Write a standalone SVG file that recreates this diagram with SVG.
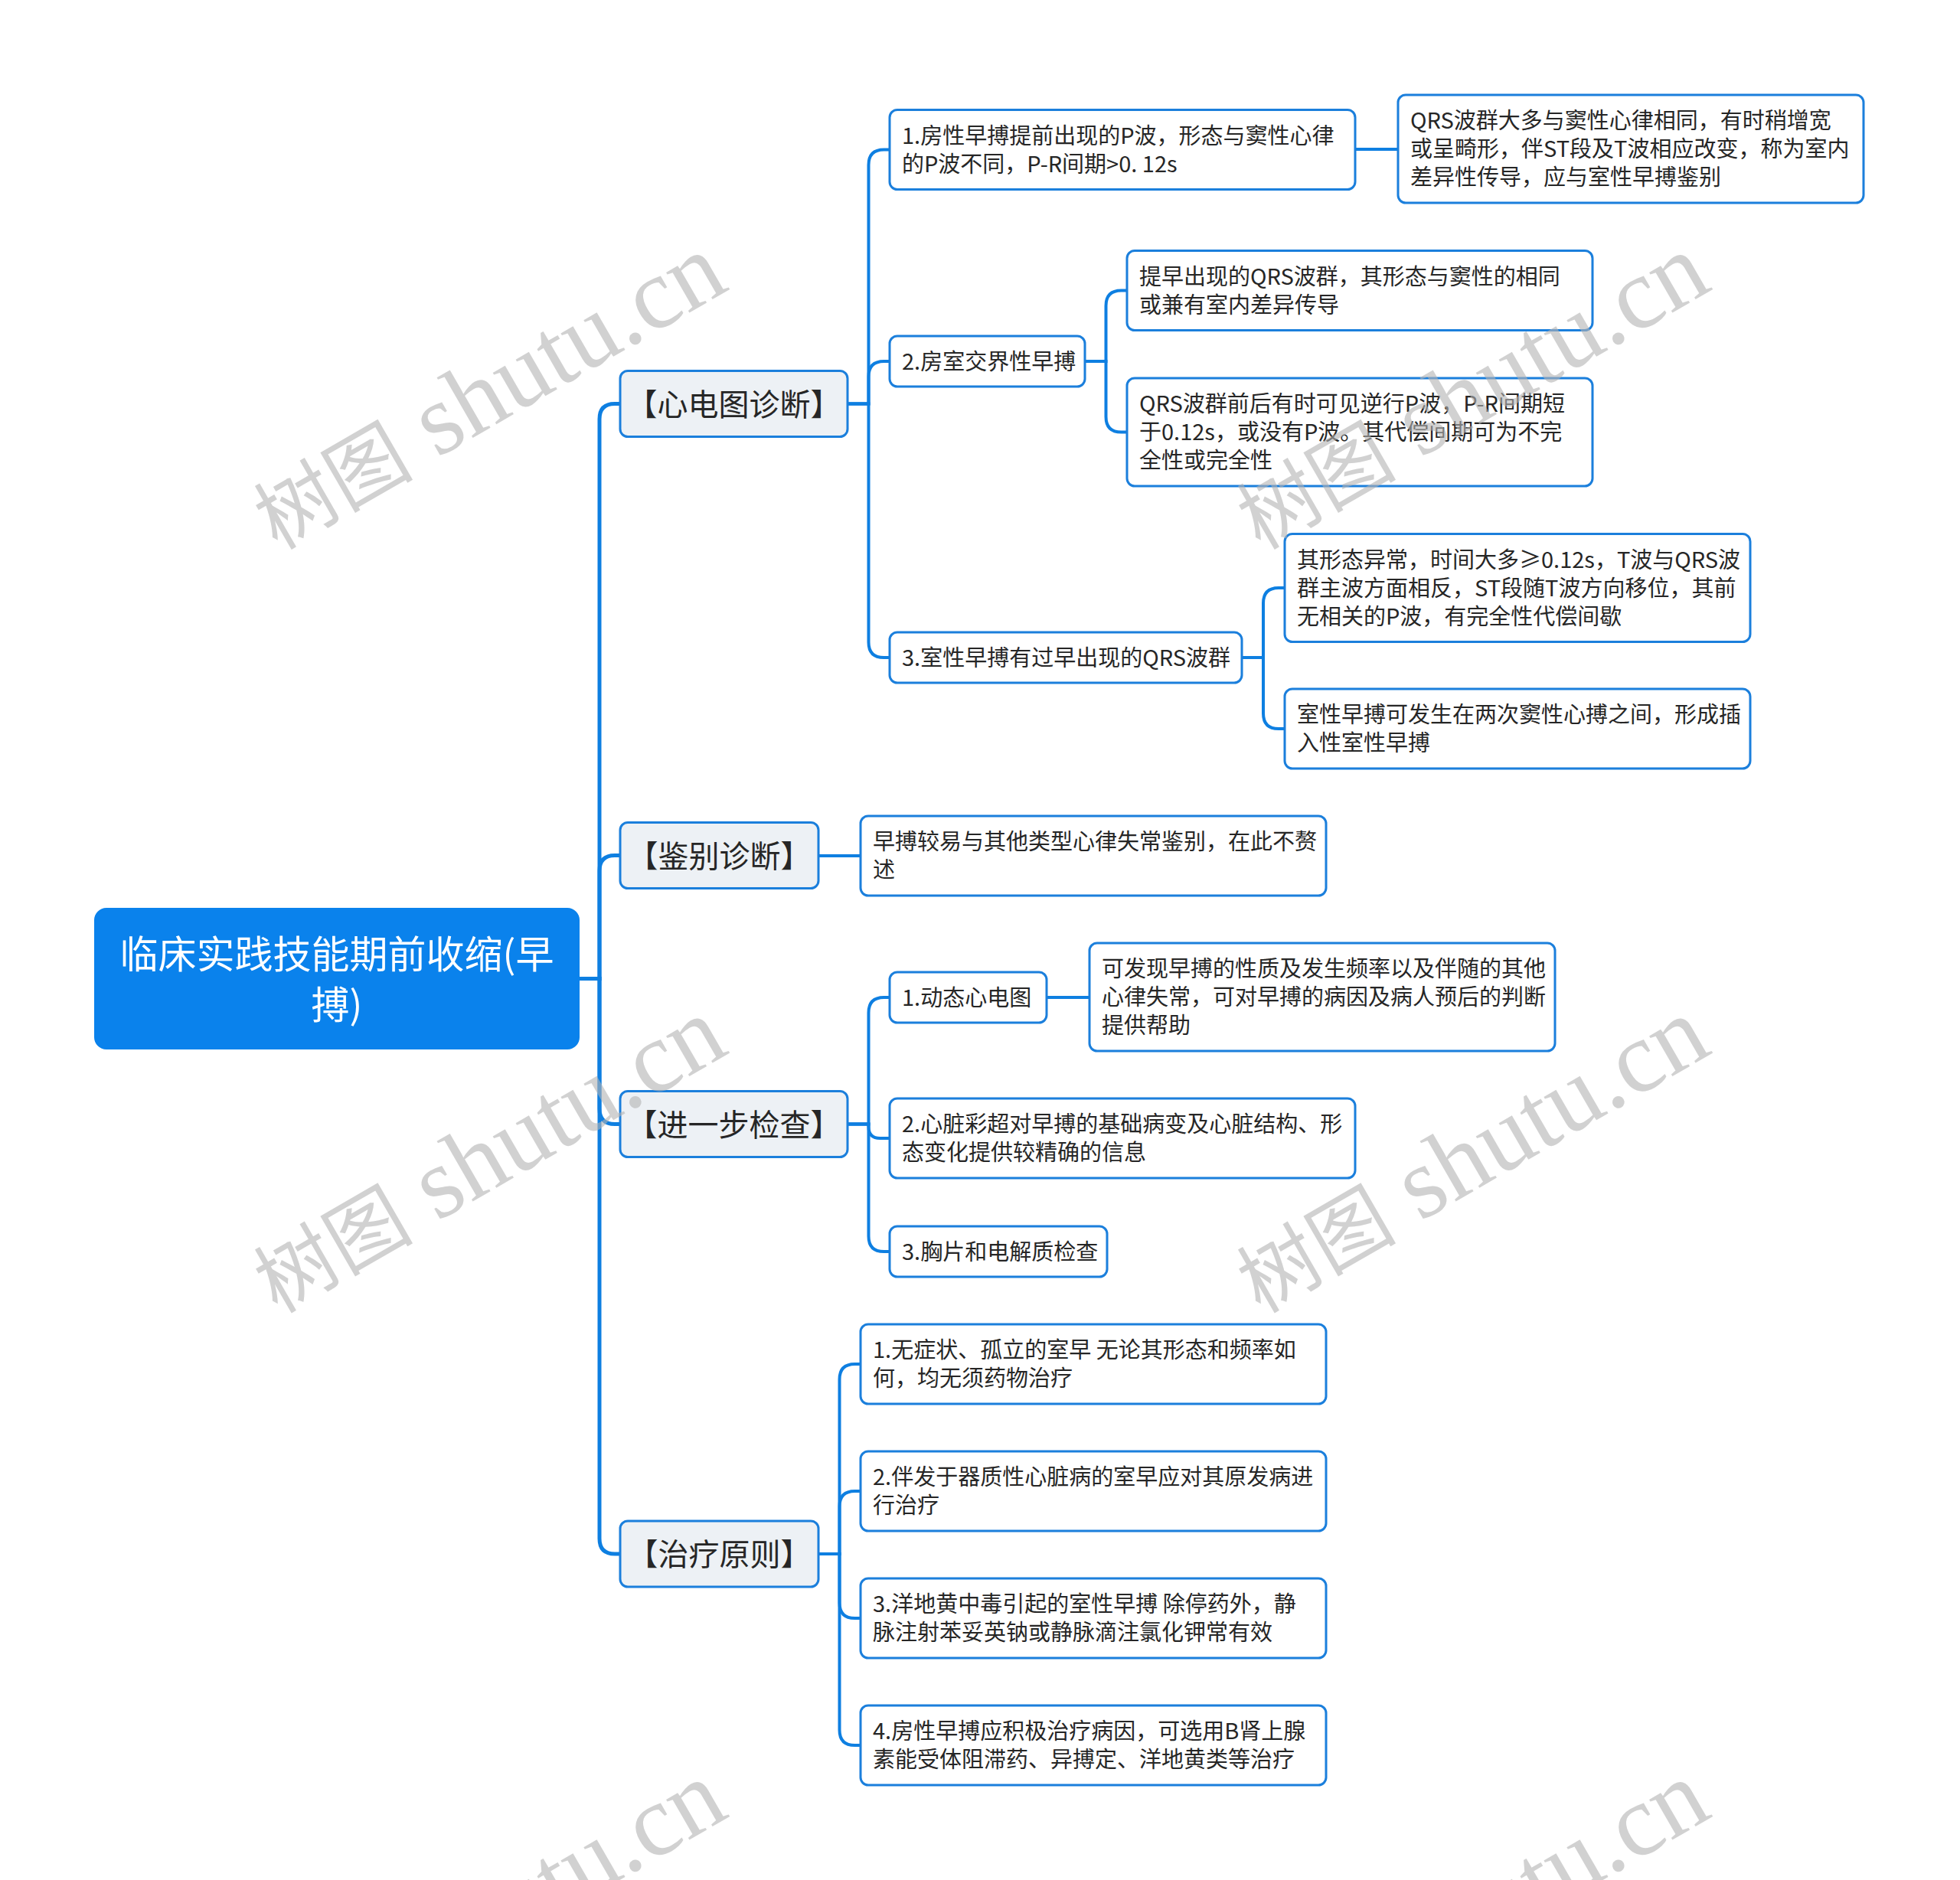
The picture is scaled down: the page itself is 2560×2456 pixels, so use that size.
<svg xmlns="http://www.w3.org/2000/svg" xmlns:xlink="http://www.w3.org/1999/xlink" width="2560" height="2456" viewBox="0 0 2560 2456">
<style>
.root{fill:#0a82ec;stroke:#0a82ec;stroke-width:2}
.l1{fill:#edf1f5;stroke:#1b7fdc;stroke-width:3}
.l2{fill:#ffffff;stroke:#1b7fdc;stroke-width:3}
.rt{font-family:"Noto Sans CJK SC","Noto Sans",sans-serif;font-size:50px;fill:#ffffff;text-anchor:middle}
.t1{font-family:"Noto Sans CJK SC","Noto Sans",sans-serif;font-size:40px;fill:#262626;text-anchor:middle}
.t2{font-family:"Noto Sans CJK SC","Noto Sans",sans-serif;font-size:29px;fill:#262626}
.c0{fill:none;stroke:#0e7fe1;stroke-width:5}
.c{fill:none;stroke:#0e7fe1;stroke-width:4}
.wm{font-family:"Liberation Serif","Noto Sans CJK SC",serif;font-size:132px;fill:#b4b4b4;opacity:0.6;text-anchor:end}
.wmc{font-size:104px}
</style>
<defs>
<text id="wm" class="wm" transform="rotate(-30)"><tspan class="wmc">树图</tspan> shutu.cn</text>
</defs>
<rect width="2560" height="2456" fill="#ffffff"/>
<g id="connectors">
<path class="c0" d="M756 1278.5 H783 V547.5 Q783 527.5 803 527.5 H810"/>
<path class="c0" d="M756 1278.5 H783 V1137.5 Q783 1117.5 803 1117.5 H810"/>
<path class="c0" d="M756 1278.5 H783 V1448.5 Q783 1468.5 803 1468.5 H810"/>
<path class="c0" d="M756 1278.5 H783 V2010 Q783 2030 803 2030 H810"/>
<path class="c" d="M1107 527.5 H1134.5 V215.5 Q1134.5 195.5 1154.5 195.5 H1162"/>
<path class="c" d="M1107 527.5 H1134.5 V492 Q1134.5 472 1154.5 472 H1162"/>
<path class="c" d="M1107 527.5 H1134.5 V839 Q1134.5 859 1154.5 859 H1162"/>
<path class="c" d="M1770 195 H1826"/>
<path class="c" d="M1417 472 H1444.5 V399.5 Q1444.5 379.5 1464.5 379.5 H1472"/>
<path class="c" d="M1417 472 H1444.5 V544.5 Q1444.5 564.5 1464.5 564.5 H1472"/>
<path class="c" d="M1622 859 H1650 V788 Q1650 768 1670 768 H1678"/>
<path class="c" d="M1622 859 H1650 V932 Q1650 952 1670 952 H1678"/>
<path class="c" d="M1069 1118 H1124"/>
<path class="c" d="M1107 1468.5 H1134.5 V1323 Q1134.5 1303 1154.5 1303 H1162"/>
<path class="c" d="M1107 1468.5 H1134.5 V1472 Q1134.5 1487 1149.5 1487 H1162"/>
<path class="c" d="M1107 1468.5 H1134.5 V1615 Q1134.5 1635 1154.5 1635 H1162"/>
<path class="c" d="M1367 1303 H1423"/>
<path class="c" d="M1069 2030 H1096.5 V1802 Q1096.5 1782 1116.5 1782 H1124"/>
<path class="c" d="M1069 2030 H1096.5 V1968 Q1096.5 1948 1116.5 1948 H1124"/>
<path class="c" d="M1069 2030 H1096.5 V2094 Q1096.5 2114 1116.5 2114 H1124"/>
<path class="c" d="M1069 2030 H1096.5 V2260 Q1096.5 2280 1116.5 2280 H1124"/>
</g>
<g id="root">
<rect class="root" x="124" y="1187" width="632" height="183" rx="15"/>
<text class="rt" x="440" y="1265">临床实践技能期前收缩(早</text>
<text class="rt" x="440" y="1331">搏)</text>
</g>
<g id="n-xdt">
<rect class="l1" x="810" y="484.5" width="297" height="86" rx="10"/>
<text class="t1" x="958.5" y="542.5">【心电图诊断】</text>
</g>
<g id="n-jbzd">
<rect class="l1" x="810" y="1074.5" width="259" height="86" rx="10"/>
<text class="t1" x="939.5" y="1132.5">【鉴别诊断】</text>
</g>
<g id="n-jybjc">
<rect class="l1" x="810" y="1425.5" width="297" height="86" rx="10"/>
<text class="t1" x="958.5" y="1483.5">【进一步检查】</text>
</g>
<g id="n-zlyz">
<rect class="l1" x="810" y="1987" width="259" height="86" rx="10"/>
<text class="t1" x="939.5" y="2045">【治疗原则】</text>
</g>
<g id="n-a1">
<rect class="l2" x="1162" y="143.5" width="608" height="104" rx="10"/>
<text class="t2" x="1178" y="188">1.房性早搏提前出现的P波，形态与窦性心律</text>
<text class="t2" x="1178" y="225">的P波不同，P-R间期&gt;0. 12s</text>
</g>
<g id="n-a1a">
<rect class="l2" x="1826" y="124" width="608" height="141" rx="10"/>
<text class="t2" x="1842" y="168">QRS波群大多与窦性心律相同，有时稍增宽</text>
<text class="t2" x="1842" y="205">或呈畸形，伴ST段及T波相应改变，称为室内</text>
<text class="t2" x="1842" y="242">差异性传导，应与室性早搏鉴别</text>
</g>
<g id="n-a2">
<rect class="l2" x="1162" y="439" width="255" height="66" rx="10"/>
<text class="t2" x="1178" y="483">2.房室交界性早搏</text>
</g>
<g id="n-a2a">
<rect class="l2" x="1472" y="327.5" width="608" height="104" rx="10"/>
<text class="t2" x="1488" y="372">提早出现的QRS波群，其形态与窦性的相同</text>
<text class="t2" x="1488" y="409">或兼有室内差异传导</text>
</g>
<g id="n-a2b">
<rect class="l2" x="1472" y="494" width="608" height="141" rx="10"/>
<text class="t2" x="1488" y="538">QRS波群前后有时可见逆行P波，P-R间期短</text>
<text class="t2" x="1488" y="575">于0.12s，或没有P波。其代偿间期可为不完</text>
<text class="t2" x="1488" y="612">全性或完全性</text>
</g>
<g id="n-a3">
<rect class="l2" x="1162" y="826" width="460" height="66" rx="10"/>
<text class="t2" x="1178" y="870">3.室性早搏有过早出现的QRS波群</text>
</g>
<g id="n-a3a">
<rect class="l2" x="1678" y="697.5" width="608" height="141" rx="10"/>
<text class="t2" x="1694" y="742">其形态异常，时间大多≥0.12s，T波与QRS波</text>
<text class="t2" x="1694" y="779">群主波方面相反，ST段随T波方向移位，其前</text>
<text class="t2" x="1694" y="816">无相关的P波，有完全性代偿间歇</text>
</g>
<g id="n-a3b">
<rect class="l2" x="1678" y="900" width="608" height="104" rx="10"/>
<text class="t2" x="1694" y="944">室性早搏可发生在两次窦性心搏之间，形成插</text>
<text class="t2" x="1694" y="981">入性室性早搏</text>
</g>
<g id="n-b1">
<rect class="l2" x="1124" y="1066" width="608" height="104" rx="10"/>
<text class="t2" x="1140" y="1110">早搏较易与其他类型心律失常鉴别，在此不赘</text>
<text class="t2" x="1140" y="1147">述</text>
</g>
<g id="n-c1">
<rect class="l2" x="1162" y="1270" width="205" height="66" rx="10"/>
<text class="t2" x="1178" y="1314">1.动态心电图</text>
</g>
<g id="n-c1a">
<rect class="l2" x="1423" y="1232" width="608" height="141" rx="10"/>
<text class="t2" x="1439" y="1276">可发现早搏的性质及发生频率以及伴随的其他</text>
<text class="t2" x="1439" y="1313">心律失常，可对早搏的病因及病人预后的判断</text>
<text class="t2" x="1439" y="1350">提供帮助</text>
</g>
<g id="n-c2">
<rect class="l2" x="1162" y="1435" width="608" height="104" rx="10"/>
<text class="t2" x="1178" y="1479">2.心脏彩超对早搏的基础病变及心脏结构、形</text>
<text class="t2" x="1178" y="1516">态变化提供较精确的信息</text>
</g>
<g id="n-c3">
<rect class="l2" x="1162" y="1602" width="284" height="66" rx="10"/>
<text class="t2" x="1178" y="1646">3.胸片和电解质检查</text>
</g>
<g id="n-d1">
<rect class="l2" x="1124" y="1730" width="608" height="104" rx="10"/>
<text class="t2" x="1140" y="1774">1.无症状、孤立的室早 无论其形态和频率如</text>
<text class="t2" x="1140" y="1811">何，均无须药物治疗</text>
</g>
<g id="n-d2">
<rect class="l2" x="1124" y="1896" width="608" height="104" rx="10"/>
<text class="t2" x="1140" y="1940">2.伴发于器质性心脏病的室早应对其原发病进</text>
<text class="t2" x="1140" y="1977">行治疗</text>
</g>
<g id="n-d3">
<rect class="l2" x="1124" y="2062" width="608" height="104" rx="10"/>
<text class="t2" x="1140" y="2106">3.洋地黄中毒引起的室性早搏 除停药外，静</text>
<text class="t2" x="1140" y="2143">脉注射苯妥英钠或静脉滴注氯化钾常有效</text>
</g>
<g id="n-d4">
<rect class="l2" x="1124" y="2228" width="608" height="104" rx="10"/>
<text class="t2" x="1140" y="2272">4.房性早搏应积极治疗病因，可选用B肾上腺</text>
<text class="t2" x="1140" y="2309">素能受体阻滞药、异搏定、洋地黄类等治疗</text>
</g>
<g id="watermarks">
<use xlink:href="#wm" transform="translate(955,377)"/>
<use xlink:href="#wm" transform="translate(2239,377)"/>
<use xlink:href="#wm" transform="translate(955,1374.5)"/>
<use xlink:href="#wm" transform="translate(2239,1374.5)"/>
<use xlink:href="#wm" transform="translate(955,2372)"/>
<use xlink:href="#wm" transform="translate(2239,2372)"/>
</g>
</svg>
